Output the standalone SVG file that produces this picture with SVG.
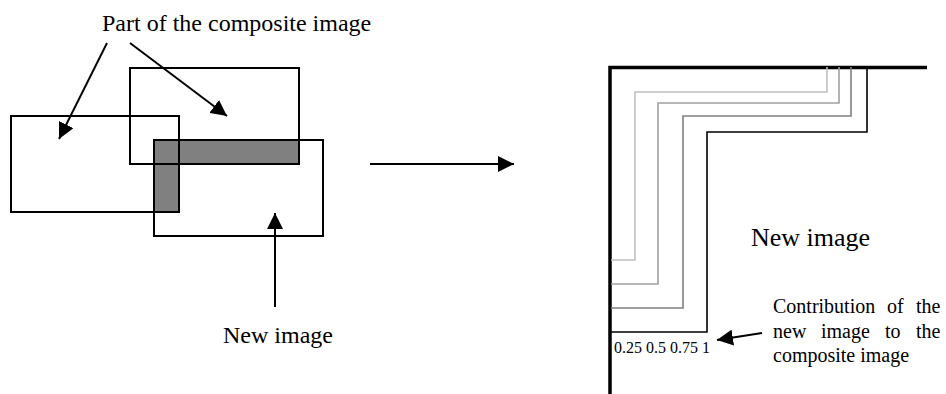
<svg xmlns="http://www.w3.org/2000/svg" width="946" height="394" viewBox="0 0 946 394">
<style>
text{font-family:"Liberation Serif","Times New Roman",serif;fill:#000}
.big{font-size:24px}
.mid{font-size:20px}
.small{font-size:16px}
.box{fill:none;stroke:#000;stroke-width:2}
.conn{fill:none;stroke:#000;stroke-width:2}
.lvl{fill:none;stroke-width:1.6}
</style>
<defs>
<marker id="ah" markerUnits="userSpaceOnUse" markerWidth="16" markerHeight="16" refX="16" refY="8" orient="auto" viewBox="0 0 16 16">
<path d="M0,0 L16,8 L0,16 z" fill="#000"/>
</marker>
</defs>
<rect width="946" height="394" fill="#fff"/>
<g id="overlap">
<polygon points="154,140 299,140 299,164 179,164 179,212 154,212" fill="#808080"/>
</g>
<g id="composite-left"><rect class="box" x="11" y="116" width="168" height="96"/></g>
<g id="composite-top"><rect class="box" x="130" y="68" width="169" height="96"/></g>
<g id="new-image-rect"><rect class="box" x="154" y="140" width="169" height="96"/></g>
<g id="label-composite"><text class="big" x="102" y="31">Part of the composite image</text></g>
<g id="label-new-left"><text class="big" x="223" y="343">New image</text></g>
<g id="blend-region">
<path d="M610,394 V67.5 H927" fill="none" stroke="#000" stroke-width="3.5"/>
<path class="lvl" stroke="#c0c0c0" d="M827,67 V92 H635 V260 H611"/>
<path class="lvl" stroke="#a0a0a0" d="M839,67 V103 H658 V284 H611"/>
<path class="lvl" stroke="#808080" d="M851,67 V116 H683 V308 H611"/>
<path class="lvl" stroke="#000" d="M867,67 V132 H707 V332 H611"/>
<text class="small" x="614" y="353">0.25 0.5 0.75 1</text>
</g>
<g id="label-new-right"><text style="font-size:26px" x="751" y="246">New image</text></g>
<g id="label-contribution">
<text class="mid" y="313"><tspan x="773">Contribution</tspan><tspan x="887">of</tspan><tspan x="916">the</tspan></text>
<text class="mid" y="338"><tspan x="773">new</tspan><tspan x="821">image</tspan><tspan x="885">to</tspan><tspan x="916">the</tspan></text>
<text class="mid" x="773" y="362">composite image</text>
</g>
<g id="connectors">
<line class="conn" x1="107" y1="43" x2="59" y2="139" marker-end="url(#ah)"/>
<line class="conn" x1="130" y1="43" x2="227" y2="116" marker-end="url(#ah)"/>
<line class="conn" x1="275" y1="307" x2="275" y2="213" marker-end="url(#ah)"/>
<line class="conn" x1="370" y1="164" x2="514" y2="164" marker-end="url(#ah)"/>
<line class="conn" x1="762" y1="333" x2="717" y2="340" marker-end="url(#ah)"/>
</g>
</svg>
